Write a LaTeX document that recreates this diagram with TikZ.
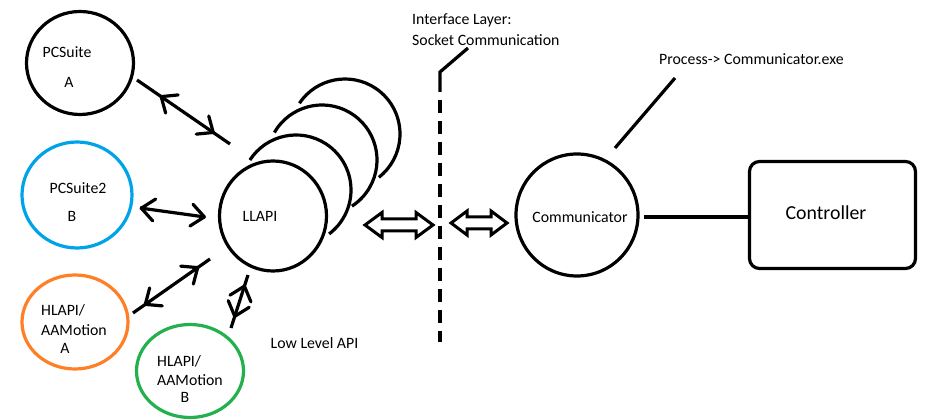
\documentclass[tikz,border=0pt]{standalone}
\usepackage{fontspec}
\setmainfont{Carlito}
\usetikzlibrary{arrows.meta,shapes.geometric,decorations.markings,calc}
\definecolor{pblue}{RGB}{0,162,232}
\definecolor{porange}{RGB}{255,127,39}
\definecolor{pgreen}{RGB}{34,177,76}
\newcommand{\fwdhead}{\draw[line width=3.2pt,line cap=round,line join=round] (-13,11) -- (0,0) -- (-13,-11);}
\newcommand{\backhead}{\draw[line width=3.2pt,line cap=round,line join=round] (13,11) -- (0,0) -- (13,-11);}
\tikzset{
  bub/.style={ellipse,draw,line width=3.2pt,inner sep=0pt},
  lbl/.style={inner sep=0pt,font=\fontsize{15.8}{18}\selectfont},
  thick3/.style={line width=3.2pt},
  hollow/.style={draw,line width=3pt,line join=miter,fill=white},
}
\begin{document}
\begin{tikzpicture}[x=1pt,y=1pt]
\useasboundingbox (0,0) rectangle (942,420);

% client bubbles
\node[bub,minimum width=107pt,minimum height=103pt] (pcA) at (80,357) {};
\node[bub,draw=pblue,minimum width=110pt,minimum height=106pt] (pcB) at (77,225) {};
\node[bub,draw=porange,minimum width=106pt,minimum height=94pt] (hlA) at (75,98) {};
\node[bub,draw=pgreen,minimum width=107pt,minimum height=93pt] (hlB) at (190,49) {};

\node[lbl] (tPCa) at (67,368) {PCSuite};
\node[lbl] (tPCaA) at (69,338) {A};
\node[lbl] (tPCb) at (78,232) {PCSuite2};
\node[lbl] (tPCbB) at (72,204) {B};
\node[lbl,anchor=west] (tHLa1) at (41,110) {HLAPI/};
\node[lbl,anchor=west] (tHLa2) at (41,90) {AAMotion};
\node[lbl] (tHLa3) at (65,72) {A};
\node[lbl,anchor=west] (tHLb1) at (157,59) {HLAPI/};
\node[lbl,anchor=west] (tHLb2) at (157,40) {AAMotion};
\node[lbl] (tHLb3) at (185,23) {B};

% stacked LLAPI instances
\draw[thick3] (345,286) ++(146:55) arc[start angle=146,end angle=-52,radius=55];
\draw[thick3] (322,260) ++(150:55) arc[start angle=150,end angle=-57,radius=55];
\draw[thick3] (296,230) ++(147:55) arc[start angle=147,end angle=-53,radius=55];
\node[bub,minimum width=107pt,minimum height=110pt] (llapi) at (273,204) {};
\node[lbl] (tLL) at (260,204) {LLAPI};
\node[lbl] (tLow) at (314.5,77) {Low Level API};

% connectors
\coordinate (a1s) at (137,340); \coordinate (a1e) at (230,276);
\coordinate (a2s) at (140,212); \coordinate (a2e) at (205,203);
\coordinate (a3s) at (133,107); \coordinate (a3e) at (210,161);
\coordinate (a4s) at (231,92);  \coordinate (a4e) at (248,145);
\draw[thick3,postaction={decorate},decoration={markings,
  mark=at position 0.26 with {\backhead},
  mark=at position 0.82 with {\fwdhead}}] (a1s) -- (a1e);
\draw[thick3,postaction={decorate},decoration={markings,
  mark=at position 0.02 with {\backhead},
  mark=at position 0.99 with {\fwdhead}}] (a2s) -- (a2e);
\draw[thick3,postaction={decorate},decoration={markings,
  mark=at position 0.16 with {\backhead},
  mark=at position 0.84 with {\fwdhead}}] (a3s) -- (a3e);
\draw[thick3,postaction={decorate},decoration={markings,
  mark=at position 0.22 with {\backhead},
  mark=at position 0.79 with {\fwdhead}}] (a4s) -- (a4e);

% hollow double arrows
\draw[hollow] (365,195) -- (382,207.5) -- (382,201) -- (416,201) -- (416,207.5)
  -- (433,195) -- (416,182.5) -- (416,189) -- (382,189) -- (382,182.5) -- cycle;
\draw[hollow] (451,197) -- (467,209) -- (467,203) -- (491,203) -- (491,209)
  -- (507,197) -- (491,185) -- (491,191) -- (467,191) -- (467,185) -- cycle;

% interface layer
\coordinate (ifTop) at (468,372);
\coordinate (ifBend) at (440,348);
\coordinate (ifMid) at (440,328);
\coordinate (ifBot) at (440,78);
\draw[thick3] (ifTop) -- (ifBend) -- (ifMid);
\draw[thick3,dash pattern=on 13pt off 8pt] ($(ifMid)+(0,-8)$) -- (ifBot);
\node[lbl,anchor=west] (tIf1) at (412,400) {Interface Layer:};
\node[lbl,anchor=west] (tIf2) at (412,380) {Socket Communication};

% communicator process
\node[bub,minimum width=122pt,minimum height=122pt] (comm) at (577,205) {};
\node[lbl] (tComm) at (580,203) {Communicator};
\coordinate (procA) at (615,272);
\coordinate (procB) at (675,342);
\draw[thick3] (procA) -- (procB);
\node[lbl,anchor=west] (tProc) at (659,361) {Process-> Communicator.exe};

% controller
\node[draw,line width=3.2pt,rounded corners=10pt,minimum width=166pt,minimum height=107pt,
  inner sep=0pt] (ctrl) at (832.5,205) {};
\node[inner sep=0pt,font=\fontsize{19.8}{23}\selectfont] (tCtrl) at (826,207) {Controller};
\draw[thick3] ([xshift=4pt]comm.east |- 0,203) -- (ctrl.west |- 0,203);
\end{tikzpicture}
\end{document}
